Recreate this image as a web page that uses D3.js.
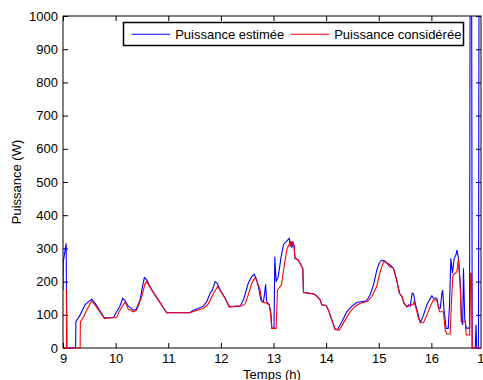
<!DOCTYPE html>
<html><head><meta charset="utf-8">
<script src="https://cdn.jsdelivr.net/npm/d3@7"></script>
<style>body{margin:0;background:#fff}svg{display:block}text{font-family:"Liberation Sans",Arial,Helvetica,sans-serif}</style>
</head><body>
<script>
const xTicks=[9,10,11,12,13,14,15,16,17];
const yTicks=[0,100,200,300,400,500,600,700,800,900,1000];
const seriesNames=["Puissance estimée","Puissance considérée"];
const blueT=[9.000,9.005,9.060,9.070,9.240,9.245,9.323,9.418,9.480,9.545,9.608,9.786,9.957,10.020,10.080,10.135,10.180,10.240,10.337,10.390,10.464,10.510,10.546,10.590,10.686,10.810,10.970,11.410,11.477,11.570,11.667,11.730,11.795,11.840,11.890,11.930,11.985,12.080,12.160,12.365,12.430,12.520,12.587,12.630,12.670,12.713,12.760,12.810,12.835,12.850,12.870,12.920,12.954,12.968,13.010,13.025,13.050,13.090,13.145,13.190,13.250,13.300,13.320,13.335,13.350,13.370,13.390,13.410,13.470,13.556,13.570,13.760,13.820,13.886,13.918,14.000,14.045,14.108,14.171,14.215,14.300,14.393,14.490,14.580,14.770,14.837,14.900,14.964,15.010,15.060,15.110,15.166,15.217,15.280,15.340,15.394,15.440,15.480,15.535,15.570,15.600,15.635,15.660,15.700,15.737,15.775,15.800,15.850,15.914,15.964,16.010,16.040,16.105,16.136,16.170,16.200,16.215,16.240,16.280,16.320,16.345,16.370,16.400,16.434,16.466,16.485,16.515,16.548,16.576,16.595,16.610,16.633,16.662,16.725,16.751,16.776,16.833,16.848,16.861,16.895,16.918,16.960];
const blueV=[175,260,315,0,0,79,99,130,139,147,135,91,92,109,126,150,142,126,114,116,145,185,212,205,175,145,106,106,114,119,126,139,165,175,200,195,175,150,124,126,145,195,215,222,210,185,145,139,170,192,140,130,99,59,59,275,200,215,275,312,322,330,305,322,302,320,308,270,265,240,167,163,157,145,130,128,114,84,56,56,79,109,126,137,142,160,190,235,257,265,263,255,250,240,205,165,155,135,124,130,126,165,163,130,109,84,79,99,130,145,157,150,150,120,120,165,174,114,59,59,130,270,225,270,280,295,270,195,79,70,240,90,60,60,2500,0,0,70,0,0,2500,2500];
const redT=[9.000,9.065,9.068,9.075,9.325,9.330,9.386,9.450,9.545,9.608,9.786,10.020,10.080,10.180,10.240,10.337,10.400,10.496,10.560,10.590,10.686,10.810,10.970,11.410,11.540,11.667,11.763,11.860,11.940,12.000,12.080,12.160,12.400,12.460,12.520,12.587,12.650,12.690,12.745,12.780,12.870,12.920,12.940,12.968,13.050,13.075,13.100,13.150,13.220,13.260,13.316,13.340,13.360,13.390,13.410,13.470,13.556,13.570,13.760,13.820,13.886,13.918,14.000,14.045,14.120,14.171,14.250,14.360,14.456,14.550,14.650,14.786,14.870,14.960,15.027,15.090,15.140,15.200,15.280,15.340,15.394,15.440,15.480,15.535,15.610,15.650,15.670,15.700,15.757,15.787,15.850,15.914,15.977,16.040,16.100,16.136,16.155,16.230,16.262,16.295,16.357,16.385,16.408,16.452,16.485,16.515,16.548,16.567,16.643,16.662,16.728,16.747,16.762,16.776,17.000];
const redV=[0,0,177,0,0,79,92,114,142,130,89,92,114,139,117,109,114,155,195,200,175,145,106,106,113,119,133,165,185,170,150,124,127,133,160,195,212,200,175,139,135,130,110,59,59,175,180,190,265,300,318,305,318,308,270,265,240,167,163,157,145,130,128,114,80,56,54,84,109,126,135,140,155,185,230,260,258,245,240,205,165,155,135,124,130,130,139,124,89,76,76,99,124,145,145,124,109,109,54,42,42,150,220,225,230,268,185,80,80,39,39,225,225,0,0];

const W=483,H=380;
const L=63,T=16,R=481,B=348;
const svg=d3.select("body").append("svg").attr("width",W).attr("height",H);
const x=d3.scaleLinear().domain([9,17]).range([63,484]);
const y=d3.scaleLinear().domain([0,1000]).range([B,T]);

svg.append("rect").attr("x",0).attr("y",0).attr("width",W).attr("height",H).attr("fill","#fff");
svg.append("defs").append("clipPath").attr("id","clip").append("rect")
  .attr("x",L).attr("y",T).attr("width",R-L).attr("height",B-T+3);

// frame
svg.append("rect").attr("x",L).attr("y",T).attr("width",R-L).attr("height",B-T)
  .attr("fill","none").attr("stroke","#000").attr("stroke-width",1);

const fs=13;
const gx=svg.append("g").attr("transform",`translate(0,${B})`)
  .call(d3.axisBottom(x).tickValues(xTicks).tickFormat(d3.format("d")).tickSize(-5).tickPadding(6));
const gxt=svg.append("g").attr("transform",`translate(0,${T})`)
  .call(d3.axisTop(x).tickValues(xTicks).tickFormat("").tickSize(-5));
const gy=svg.append("g").attr("transform",`translate(${L},0)`)
  .call(d3.axisLeft(y).tickValues(yTicks).tickFormat(d3.format("d")).tickSize(-5).tickPadding(5));
const gyr=svg.append("g").attr("transform",`translate(${R},0)`)
  .call(d3.axisRight(y).tickValues(yTicks).tickFormat("").tickSize(-5));
[gx,gxt,gy,gyr].forEach(g=>{
  g.select(".domain").remove();
  g.selectAll("line").attr("stroke","#000");
  g.selectAll("text").attr("font-size",fs).attr("fill","#000").attr("font-family",'"Liberation Sans",Arial,sans-serif');
});
gxt.selectAll(".tick").filter(d=>x(d)>R).remove();

const line=d3.line().x(d=>x(d[0])).y(d=>y(d[1]));
const blue=blueT.map((t,i)=>[t,blueV[i]]);
const red=redT.map((t,i)=>[t,redV[i]]);
const dg=svg.append("g").attr("clip-path","url(#clip)");
dg.append("path").datum(blue).attr("d",line).attr("fill","none").attr("stroke","#0000ff").attr("stroke-width",1.1);
dg.append("path").datum(red).attr("d",line).attr("fill","none").attr("stroke","#ff0000").attr("stroke-width",1.1);

// axis titles
svg.append("text").attr("x",(L+R)/2).attr("y",379).attr("text-anchor","middle")
  .attr("font-size",fs).text("Temps (h)");
svg.append("text").attr("transform",`translate(21,${(T+B)/2}) rotate(-90)`).attr("text-anchor","middle")
  .attr("font-size",fs).text("Puissance (W)");

// legend
const lg=svg.append("g");
lg.append("rect").attr("x",123.5).attr("y",22.5).attr("width",340).attr("height",23)
  .attr("fill","#fff").attr("stroke","#000").attr("stroke-width",1.5);
const items=[{name:seriesNames[0],color:"#0000ff",x0:131.7},{name:seriesNames[1],color:"#ff0000",x0:290.7}];
items.forEach(it=>{
  lg.append("line").attr("x1",it.x0).attr("x2",it.x0+38.5).attr("y1",34.3).attr("y2",34.3)
    .attr("stroke",it.color).attr("stroke-width",1.1);
  lg.append("text").attr("x",it.x0+43.5).attr("y",38.9).attr("font-size",fs).text(it.name);
});
</script>
</body></html>
